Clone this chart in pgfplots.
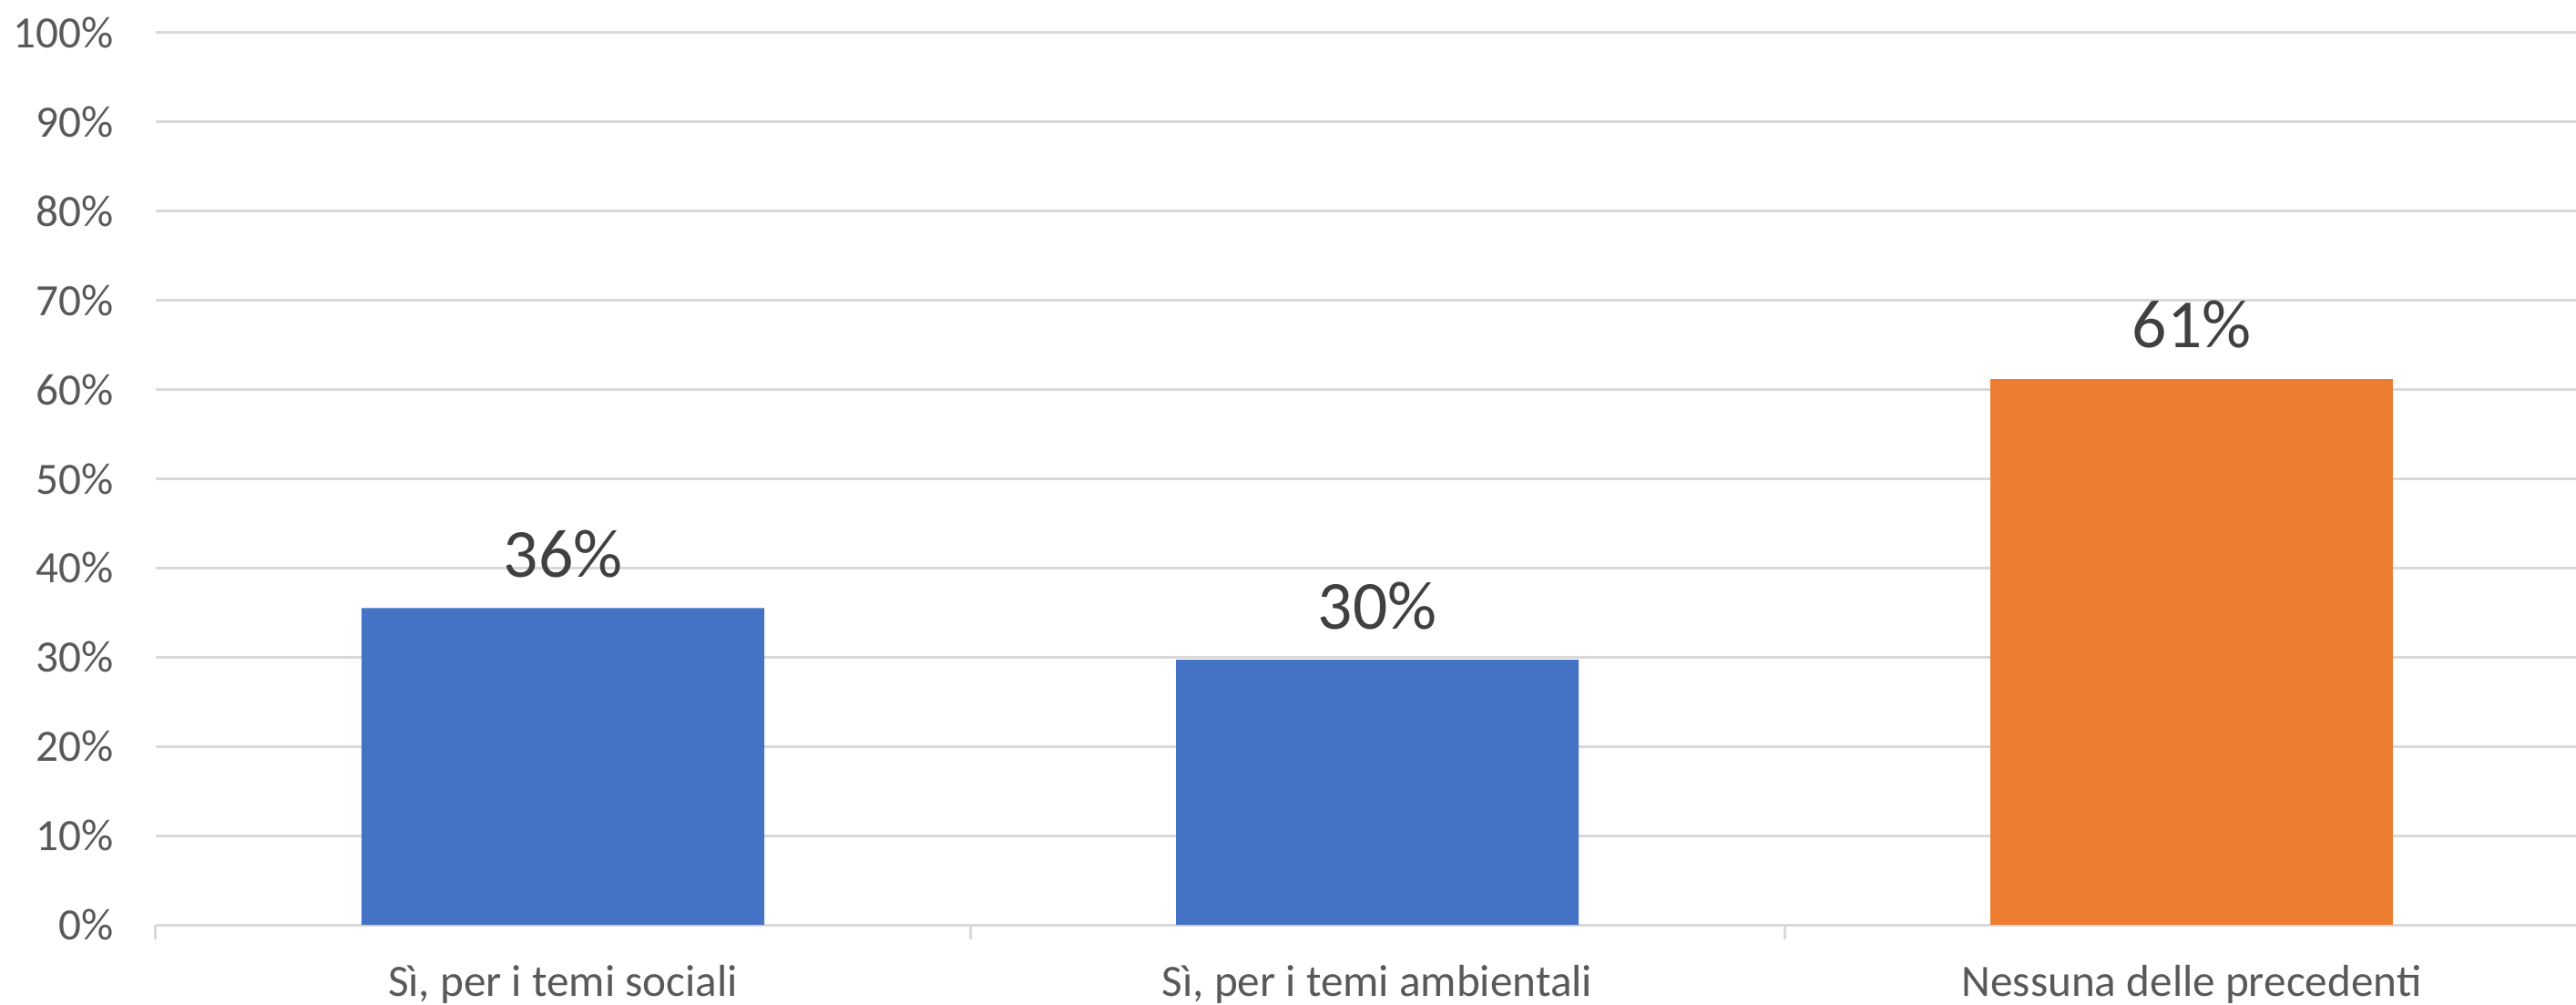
\documentclass[border=0pt]{standalone}
\usepackage{fontspec}
\setmainfont{Carlito}
\usepackage{pgfplots}
\pgfplotsset{compat=1.18}
\definecolor{barblue}{HTML}{4472C4}
\definecolor{barorange}{HTML}{ED7D31}
\definecolor{gridgray}{HTML}{D9D9D9}
\definecolor{ticktext}{HTML}{595959}
\definecolor{labeltext}{HTML}{404040}
\begin{document}
\begin{tikzpicture}
\path[use as bounding box] (-17.1mm,-8.7mm) rectangle (265.7mm,101.5mm);
\begin{axis}[
  at={(0,0)}, anchor=south west,
  scale only axis,
  width=268.2mm, height=97.9mm,
  xmin=-0.5, xmax=2.5,
  ymin=0, ymax=100,
  ybar,
  bar width=44.2mm,
  bar shift=0pt,
  axis lines*=left,
  y axis line style={draw=none},
  x axis line style={draw=gridgray, line width=0.3mm},
  xtick={0,1,2},
  xticklabels={{Sì, per i temi sociali},{Sì, per i temi ambientali},{Nessuna delle precedenti}},
  minor xtick={-0.5,0.5,1.5,2.5},
  major tick length=0pt,
  minor tick length=1.6mm,
  tick align=outside,
  minor tick style={draw=gridgray, line width=0.3mm},
  ytick={0,10,...,100},
  yticklabels={0\%,10\%,20\%,30\%,40\%,50\%,60\%,70\%,80\%,90\%,100\%},
  ymajorgrids,
  major grid style={draw=gridgray, line width=0.3mm},
  yticklabel style={anchor=east, inner sep=0pt, xshift=-4.6mm, font=\fontsize{14}{16}\selectfont, text=ticktext},
  xticklabel style={anchor=base, inner sep=0pt, yshift=-7.8mm, font=\fontsize{14}{16}\selectfont, text=ticktext},
  point meta=explicit symbolic,
  nodes near coords,
  every node near coord/.append style={anchor=base, inner sep=0pt, yshift=3.4mm, font=\fontsize{21.5}{24}\selectfont, text=labeltext},
  /pgf/number format/assume math mode=true,
]
\addplot[fill=barblue, draw=none] coordinates {(0,35.5) [36\%] (1,29.7) [30\%]};
\addplot[fill=barorange, draw=none] coordinates {(2,61.2) [61\%]};
\end{axis}
\end{tikzpicture}
\end{document}
